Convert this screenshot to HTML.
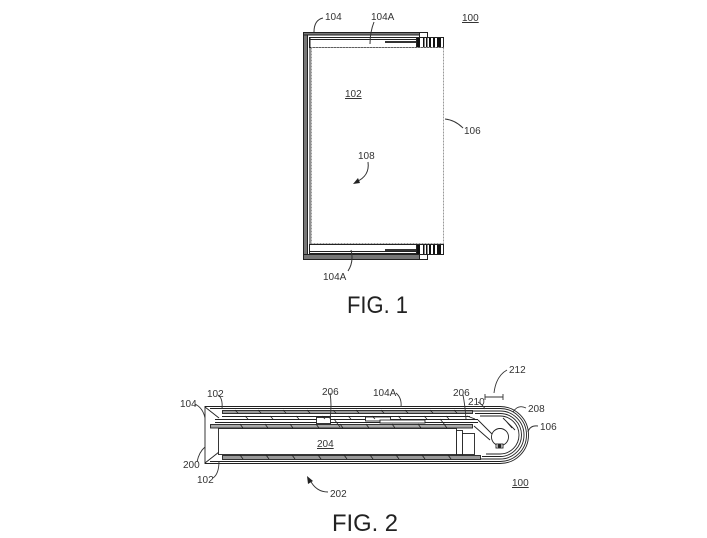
<!DOCTYPE html>
<html><head><meta charset="utf-8"><style>
html,body{margin:0;padding:0;background:#fff;}
svg{display:block;}
text{font-family:"Liberation Sans",Arial,sans-serif;fill:#333;}
</style></head><body>
<svg width="707" height="538" viewBox="0 0 707 538" xmlns="http://www.w3.org/2000/svg">
<g stroke="#222" fill="none" stroke-width="1">
<!-- FIG 1 -->
<!-- left frame bar -->
<rect x="303.5" y="32.5" width="4" height="227" fill="#777"/>
<!-- top frame bar -->
<rect x="303.5" y="32.5" width="116" height="2.5" fill="#777"/>
<rect x="419.5" y="32.5" width="8" height="5" fill="#fff"/>
<!-- top rail 104A -->
<rect x="309.5" y="37.5" width="108" height="10" fill="#fff"/>
<line x1="309.5" y1="39.5" x2="417.5" y2="39.5"/>
<rect x="385" y="41" width="32" height="2" fill="#333" stroke="none"/>
<line x1="310" y1="37" x2="310" y2="254"/>
<!-- top hinge -->
<rect x="416.5" y="37.5" width="27" height="10" fill="#fff"/>
<g stroke="none" fill="#111">
<rect x="417" y="38" width="3" height="9"/>
<rect x="423" y="38" width="1.5" height="9"/>
<rect x="426" y="38" width="1.5" height="9"/>
<rect x="429" y="38" width="2" height="9"/>
<rect x="433" y="38" width="2" height="9"/>
<rect x="437" y="38" width="4" height="9"/>
</g>
<!-- screen -->
<rect x="311.5" y="47.5" width="132" height="196" stroke="#999" stroke-dasharray="2,1"/>
<!-- bottom rail -->
<rect x="309.5" y="244.5" width="108" height="9" fill="#fff"/>
<line x1="309.5" y1="251.5" x2="417.5" y2="251.5"/>
<rect x="385" y="249" width="32" height="2" fill="#333" stroke="none"/>
<rect x="303.5" y="254.5" width="116" height="5" fill="#777"/>
<rect x="419.5" y="254.5" width="8" height="5" fill="#fff"/>
<rect x="416.5" y="244.5" width="27" height="10" fill="#fff"/>
<g stroke="none" fill="#111">
<rect x="417" y="245" width="3" height="9"/>
<rect x="423" y="245" width="1.5" height="9"/>
<rect x="426" y="245" width="1.5" height="9"/>
<rect x="429" y="245" width="2" height="9"/>
<rect x="433" y="245" width="2" height="9"/>
<rect x="437" y="245" width="4" height="9"/>
</g>
<!-- leaders fig1 -->
<path d="M323,18 Q314,20 314,32" stroke="#333"/>
<path d="M374,22 Q370,32 370,44" stroke="#333"/>
<path d="M463,128 Q455,120 445,119" stroke="#333"/>
<path d="M368,162 Q370,176 356,182" stroke="#333"/>
<path d="M348,271 Q354,262 351,250" stroke="#333"/>
</g>
<polygon points="353,184 358,178 360,183" fill="#222"/>

<!-- FIG 2 -->
<g stroke="#222" fill="none" stroke-width="0.9">
<!-- outer shells -->
<path d="M205,406.5 H500 A28.5,28.5 0 0 1 500,463.5 H205 Z"/>
<path d="M210,408.5 H500 A26.5,26.5 0 0 1 500,461.5 H210"/>
<path d="M470,411 H500 A24,24 0 0 1 500,459 H480"/>
<path d="M475,413.5 H500 A21.5,21.5 0 0 1 500,456.5 H482"/>
<path d="M480,416 H500 A19,19 0 0 1 500,454 H486"/>
<!-- left end -->
<line x1="205" y1="407" x2="219" y2="418"/>
<line x1="205" y1="463" x2="219" y2="452"/>
<!-- top screen layer 102 -->
<rect x="222.5" y="410.5" width="250" height="3" fill="#999"/>
<line x1="222" y1="416.5" x2="470" y2="416.5"/>
<line x1="215" y1="419.5" x2="478" y2="419.5"/>
<line x1="215" y1="422.5" x2="478" y2="422.5"/>
<!-- middle plate -->
<rect x="210.5" y="424.5" width="262" height="3.5" fill="#aaa"/>
<!-- components -->
<rect x="316.5" y="417.5" width="14" height="6" fill="#fff"/>
<rect x="365.5" y="417" width="25" height="4" fill="#fff"/>
<rect x="380" y="420" width="45" height="3" fill="#fff"/>
<!-- chamber 204 -->
<rect x="218.5" y="428.5" width="238" height="26" fill="#fff"/>
<rect x="456.5" y="430.5" width="6" height="24" fill="#fff"/>
<rect x="462.5" y="433.5" width="12" height="21" fill="#fff"/>
<!-- bottom layer 102 -->
<rect x="222.5" y="455.5" width="258" height="4" fill="#999"/>
<!-- hatching ticks -->
<g stroke="#222" stroke-width="0.8">
<path d="M235,410 l3,3 M258,410 l3,3 M283,410 l3,3 M307,410 l3,3 M333,410 l3,3 M356,410 l3,3 M381,410 l3,3 M405,410 l3,3 M430,410 l3,3 M454,410 l3,3"/>
<path d="M245,416 l3,3 M270,416 l3,3 M296,416 l3,3 M322,416 l3,3 M348,416 l3,3 M372,416 l3,3 M398,416 l3,3 M424,416 l3,3 M446,416 l3,3"/>
<path d="M240,424 l3,4 M265,424 l3,4 M290,424 l3,4 M316,424 l3,4 M340,424 l3,4 M366,424 l3,4 M392,424 l3,4 M418,424 l3,4 M444,424 l3,4"/>
<path d="M240,455 l3,4 M266,455 l3,4 M292,455 l3,4 M318,455 l3,4 M344,455 l3,4 M370,455 l3,4 M396,455 l3,4 M422,455 l3,4 M448,455 l3,4"/>
<path d="M334,419 l6,8 M440,419 l5,6"/>
</g>
<!-- roller internals -->
<circle cx="500" cy="437" r="8.5" fill="#fff"/>
<path d="M478,420 L492,434 M474,426 L490,440 M506,421 L512,428 M503,418 L515,430" />
<rect x="496" y="444" width="7" height="4" fill="#fff"/>
<circle cx="499.5" cy="446" r="1.5" fill="#222"/>
<path d="M467,416 L475,419"/>
<!-- leaders fig2 -->
<g stroke="#333">
<path d="M218,395 Q223,398 222,409"/>
<path d="M195,404 Q203,408 205,418"/>
<path d="M197,462 Q199,452 205,447"/>
<path d="M213,478 Q219,474 219,461"/>
<path d="M330,393 Q332,405 330,419"/>
<path d="M396,393 Q402,398 401,407"/>
<path d="M463,395 Q465,405 466,419"/>
<path d="M478,402 Q483,405 485,409"/>
<path d="M526,408 Q518,404 513,412"/>
<path d="M538,426 Q530,425 528,432"/>
<path d="M507,370 Q496,376 494,393"/>
<path d="M485,397 H503 M485,394 V400 M503,394 V400"/>
<path d="M328,492 Q316,492 310,480"/>
</g>
</g>
<polygon points="307,476 313,481 308,484" fill="#222"/>

<!-- labels -->
<g font-size="10">
<text x="325" y="20">104</text>
<text x="371" y="20">104A</text>
<text x="462" y="21" text-decoration="underline">100</text>
<text x="345" y="97" text-decoration="underline">102</text>
<text x="464" y="134">106</text>
<text x="358" y="159">108</text>
<text x="323" y="280">104A</text>
<text x="207" y="397">102</text>
<text x="322" y="395">206</text>
<text x="373" y="396">104A</text>
<text x="453" y="396">206</text>
<text x="468" y="405">210</text>
<text x="528" y="412">208</text>
<text x="540" y="430">106</text>
<text x="509" y="373">212</text>
<text x="180" y="407">104</text>
<text x="183" y="468">200</text>
<text x="197" y="483">102</text>
<text x="317" y="447" text-decoration="underline">204</text>
<text x="330" y="497">202</text>
<text x="512" y="486" text-decoration="underline">100</text>
</g>
<text x="347" y="313" font-size="24" textLength="61" lengthAdjust="spacingAndGlyphs" style="fill:#222">FIG. 1</text>
<text x="332" y="531" font-size="24" textLength="66" lengthAdjust="spacingAndGlyphs" style="fill:#222">FIG. 2</text>
</svg>
</body></html>
